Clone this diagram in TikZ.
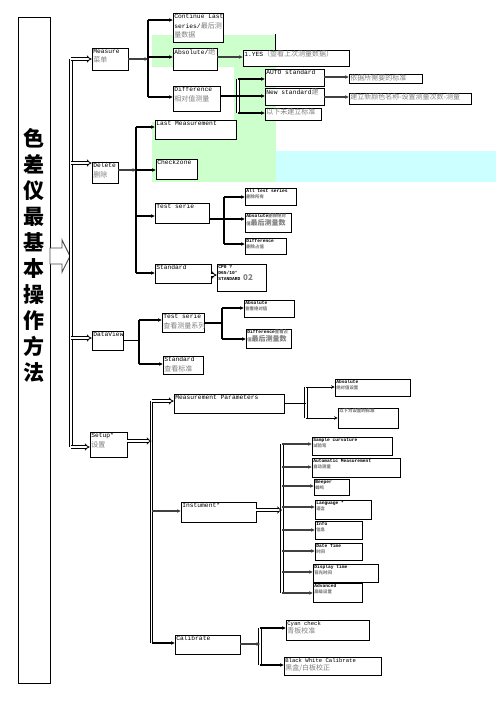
\documentclass[tikz,border=0pt]{standalone}
\usepackage{fontspec}
\setmonofont{Liberation Mono}
\newfontfamily\cjk{Noto Sans CJK SC}
\usetikzlibrary{arrows.meta}
\definecolor{zg}{HTML}{7F7F7F}
\definecolor{lg}{HTML}{CCFFCC}
\definecolor{lc}{HTML}{CCFFFF}
\newcommand\zh[1]{{\cjk\fontsize{7}{9.5}\selectfont\color{zg}#1}}
\newcommand\zs[1]{{\cjk\fontsize{4.4}{6}\selectfont\color{zg}#1}}
\newcommand\zl[1]{{\cjk\fontsize{7}{8}\selectfont\color{zg}#1}}
\newcommand\bx[7]{%
  \node[boxst,minimum width={(#4-#2)*1pt},minimum height={(#5-#3)*1pt}] (#1) at ({(#2+#4)/2},{(#3+#5)/2}) {};
  \node[#6] (#1t) at ([shift={(1.5,1.2)}]#1.north west) {#7};}
\begin{document}
\begin{tikzpicture}[x=1pt,y=-1pt,
  boxst/.style={draw=black,line width=0.8pt,fill=white,inner sep=0pt},
  tn/.style={font=\ttfamily\fontsize{6.3}{9.5}\selectfont,inner sep=0pt,align=left,anchor=north west},
  tt/.style={font=\ttfamily\bfseries\fontsize{4.6}{6.2}\selectfont,inner sep=0pt,align=left,anchor=north west},
  tm/.style={font=\ttfamily\fontsize{5.6}{8}\selectfont,inner sep=0pt,align=left,anchor=north west},
  br/.style={line width=1.4pt,-{Stealth[length=3.5pt,width=3.5pt]}},
  bg/.style={line width=1.8pt,draw=black!75,-{Stealth[length=3.5pt,width=3.5pt]}},
  vl/.style={line width=1.8pt},
  dl/.style={double,double distance=1.5pt,line width=0.8pt},
  hol/.style={double,double distance=1.6pt,line width=0.8pt,-{Implies}},
]
\useasboundingbox (0,0) rectangle (496,702);
\fill[white] (0,0) rectangle (496,702);
% backgrounds
\fill[lg] (152,35) rectangle (276,67);
\fill[lg] (234,35) rectangle (276,182);
\fill[lg] (152,122) rectangle (276,182);
\fill[lc] (276,151) rectangle (496,182);
\draw[line width=0.6pt] (275,34) -- (275,55);
% title
\node[draw=black,line width=1pt,minimum width=32pt,minimum height=666pt,inner sep=0pt] (tb) at (34,350) {};
\node[font=\cjk\bfseries\fontsize{21}{26}\selectfont,align=center,inner sep=0pt] (title) at (34,255) {色\\差\\仪\\最\\基\\本\\操\\作\\方\\法};
\draw[draw=black!70,fill=white,line width=0.9pt] (50,248) -- (62,248) -- (62,240) -- (70,256) -- (62,272) -- (62,264) -- (50,264) -- cycle;
% level 1 boxes
\bx{me}{92}{48}{128}{70}{tn}{Measure\\\zh{菜单}}
\bx{de}{92}{162}{118}{183}{tn}{Delete\\\zh{删除}}
\bx{dv}{92}{331}{123}{350}{tn}{DataView}
\bx{su}{90}{432}{127}{457}{tn}{Setup*\\\zh{设置}}
% measure
\bx{cl}{173}{13}{223}{42}{tn}{Continue Last\\series/\zh{最后测}\\\zh{量数据}}
\bx{ab}{173}{48}{217}{70}{tn}{Absolute/\zh{绝}}
\bx{di}{173}{86}{220}{111}{tn}{Difference\\\zh{相对值测量}}
\bx{yes}{243}{50}{349}{66}{tn}{1.YES\zh{（查看上次测量数据）}}
\bx{au}{265}{69}{324}{86}{tn}{AUTO standard}
\bx{ns}{265}{88}{324}{105}{tn}{New standard\zh{建}}
\bx{wl}{265}{108}{321}{120}{tn}{\zh{以下未建立标准}}
\bx{yj}{349}{74}{422}{83}{tn}{\zh{依据所需要的标准}}
\bx{jl}{349}{93}{471}{104}{tn}{\zh{建立新颜色名称-设置测量次数-测量}}
% delete
\bx{lm}{155}{120}{236}{139}{tn}{Last Measurement}
\bx{cz}{156}{159}{197}{179}{tn}{Checkzone}
\bx{ts}{155}{203}{209}{223}{tn}{Test serie}
\bx{st}{155}{264}{211}{283}{tn}{Standard}
\bx{al}{245}{188}{296}{205}{tt}{All test series\\\zs{删除所有}}
\bx{abd}{245}{213}{291}{232}{tt}{Absolute\zs{删除绝对}\\\zs{值}\zl{最后测量数}}
\bx{dfd}{245}{238}{286}{254}{tt}{Difference\\\zs{删除占值}}
\bx{cp}{217}{264}{266}{291}{tt}{CP0 ?\\D65/10°\\STANDARD \zl{\fontsize{8}{9}\selectfont 02}}
% dataview
\bx{dts}{162}{313}{204}{332}{tn}{Test serie\\\zh{查看测量系列}}
\bx{dst}{163}{356}{203}{374}{tn}{Standard\\\zh{查看标准}}
\bx{dab}{244}{300}{294}{317}{tt}{Absolute\\\zs{查看绝对值}}
\bx{ddf}{246}{329}{291}{348}{tt}{Difference\zs{查看占}\\\zs{值}\zl{最后测量数}}
% setup
\bx{mp}{174}{394}{284}{413}{tn}{Measurement Parameters}
\bx{mpa}{335}{379}{410}{396}{tt}{Absolute\\\zs{绝对值设置}}
\bx{mpb}{338}{408}{398}{428}{tt}{\zs{以下为设置的标准}}
\bx{ins}{181}{502}{256}{522}{tn}{Instument*}
\bx{ia}{312}{437}{392}{455}{tt}{Sample curvature\\\zs{试验弯}}
\bx{ib}{312}{458}{400}{477}{tt}{Automatic Measurement\\\zs{自动测量}}
\bx{ic}{314}{479}{349}{495}{tt}{Beeper\\\zs{蜂鸣}}
\bx{id}{315}{500}{371}{519}{tt}{Language *\\\zs{语言}}
\bx{ie}{315}{521}{362}{539}{tt}{Info\\\zs{信息}}
\bx{if}{315}{543}{362}{560}{tt}{Date Time\\\zs{时间}}
\bx{ig}{313}{564}{378}{582}{tt}{Display time\\\zs{背光时间}}
\bx{ih}{313}{583}{362}{602}{tt}{Advanced\\\zs{高级设置}}
\bx{ca}{175}{635}{240}{654}{tn}{Calibrate}
\bx{ca1}{286}{620}{369}{640}{tm}{Cyan check\\\zh{青板校准}}
\bx{ca2}{284}{657}{381}{675}{tm}{Black White Calibrate\\\zh{黑盒/白板校正}}
% main trunk
\coordinate (mvT) at (71,59);
\coordinate (mvB) at (71,447);
\coordinate (mvD) at (71,163);
\coordinate (mvV) at (71,338);
\draw[dl] (mvT) -- (mvB);
\draw[hol] (mvT) -- (mvT -| me.west);
\draw[hol] (mvD) -- (mvD -| de.west);
\draw[hol] (mvV) -- (mvV -| dv.west);
\draw[hol] (mvB) -- (mvB -| su.west);
% measure tree
\coordinate (mT) at (148,20);
\coordinate (mB) at (148,97);
\draw[vl] (mT) -- (mB);
\draw[bg] (me.east) -- (me.east -| mT);
\draw[br] (mT) -- (mT -| cl.west);
\draw[br] (148,57) -- (ab.west |- 148,57);
\draw[br] (mB) -- (mB -| di.west);
\draw[bg] (ab.east |- 0,57) -- (yes.west |- 0,57);
\coordinate (dT) at (238,79);
\coordinate (dB) at (238,113);
\draw[dl] (dT) -- (dB);
\draw[line width=1.6pt] (di.east |- 0,96) -- (238,96);
\draw[br] (dT) -- (dT -| au.west);
\draw[br] (238,96) -- (ns.west |- 0,96);
\draw[br] (dB) -- (dB -| wl.west);
\draw[bg] (au.east |- 0,77) -- (yj.west |- 0,77);
\draw[bg,line width=2.2pt] (ns.east |- 0,97) -- (jl.west |- 0,97);
% delete tree
\coordinate (eT) at (136,127);
\coordinate (eB) at (136,273);
\draw[vl] (eT) -- (eB);
\draw[bg] (de.east |- 0,170) -- (136,170);
\draw[br] (eT) -- (eT -| lm.west);
\draw[br] (136,170) -- (cz.west |- 0,170);
\draw[br] (136,216) -- (ts.west |- 0,216);
\draw[br] (eB) -- (eB -| st.west);
\coordinate (tT) at (224,197);
\coordinate (tB) at (224,244);
\draw[vl] (tT) -- (tB);
\draw[line width=1.8pt] (ts.east |- 0,219) -- (224,219);
\draw[br] (tT) -- (tT -| al.west);
\draw[br] (224,219) -- (abd.west |- 0,219);
\draw[br] (tB) -- (tB -| dfd.west);
\draw[hol] (st.east |- 0,275) -- (cp.west |- 0,275);
% dataview tree
\coordinate (vT) at (139,320);
\coordinate (vB) at (139,364);
\draw[vl] (vT) -- (vB);
\draw[line width=1.8pt] (dv.east) -- (dv.east -| vT);
\draw[br] (vT) -- (vT -| dts.west);
\draw[br] (vB) -- (vB -| dst.west);
\coordinate (wT) at (222,308);
\coordinate (wB) at (222,339);
\draw[vl] (wT) -- (wB);
\draw[line width=1.8pt] (dts.east |- 0,323) -- (222,323);
\draw[br] (wT) -- (wT -| dab.west);
\draw[br] (wB) -- (wB -| ddf.west);
% setup tree
\coordinate (sT) at (151.5,401);
\coordinate (sB) at (151.5,643);
\draw[dl] (sT) -- (sB);
\draw[hol] (su.east |- 0,441) -- (151.5,441);
\draw[hol] (sT) -- (mp.west |- sT);
\draw[bg] (151.5,511) -- (ins.west |- 0,511);
\draw[br] (sB) -- (sB -| ca.west);
\coordinate (pT) at (306,387);
\coordinate (pB) at (306,418);
\draw[dl] (pT) -- (pB);
\draw[line width=0.9pt] (mp.east) -- (mp.east -| pT);
\draw[br,line width=1pt] (pT) -- (pT -| mpa.west);
\draw[br,line width=1pt] (pB) -- (pB -| mpb.west);
\coordinate (iT) at (282,444);
\coordinate (iB) at (282,593);
\draw[dl] (iT) -- (iB);
\draw[hol] (ins.east |- 0,510) -- (282,510);
\foreach \n/\yy in {ia/444,ib/467,ic/486,id/507,ie/530,if/551,ig/572,ih/593}
  \draw[bg] (282,\yy) -- (\n.west |- 0,\yy);
\coordinate (cT) at (260,628);
\coordinate (cB) at (260,665);
\draw[dl] (cT) -- (cB);
\draw[bg] (ca.east |- 0,644) -- (260,644);
\draw[br] (cT) -- (cT -| ca1.west);
\draw[br] (cB) -- (cB -| ca2.west);
\end{tikzpicture}
\end{document}
